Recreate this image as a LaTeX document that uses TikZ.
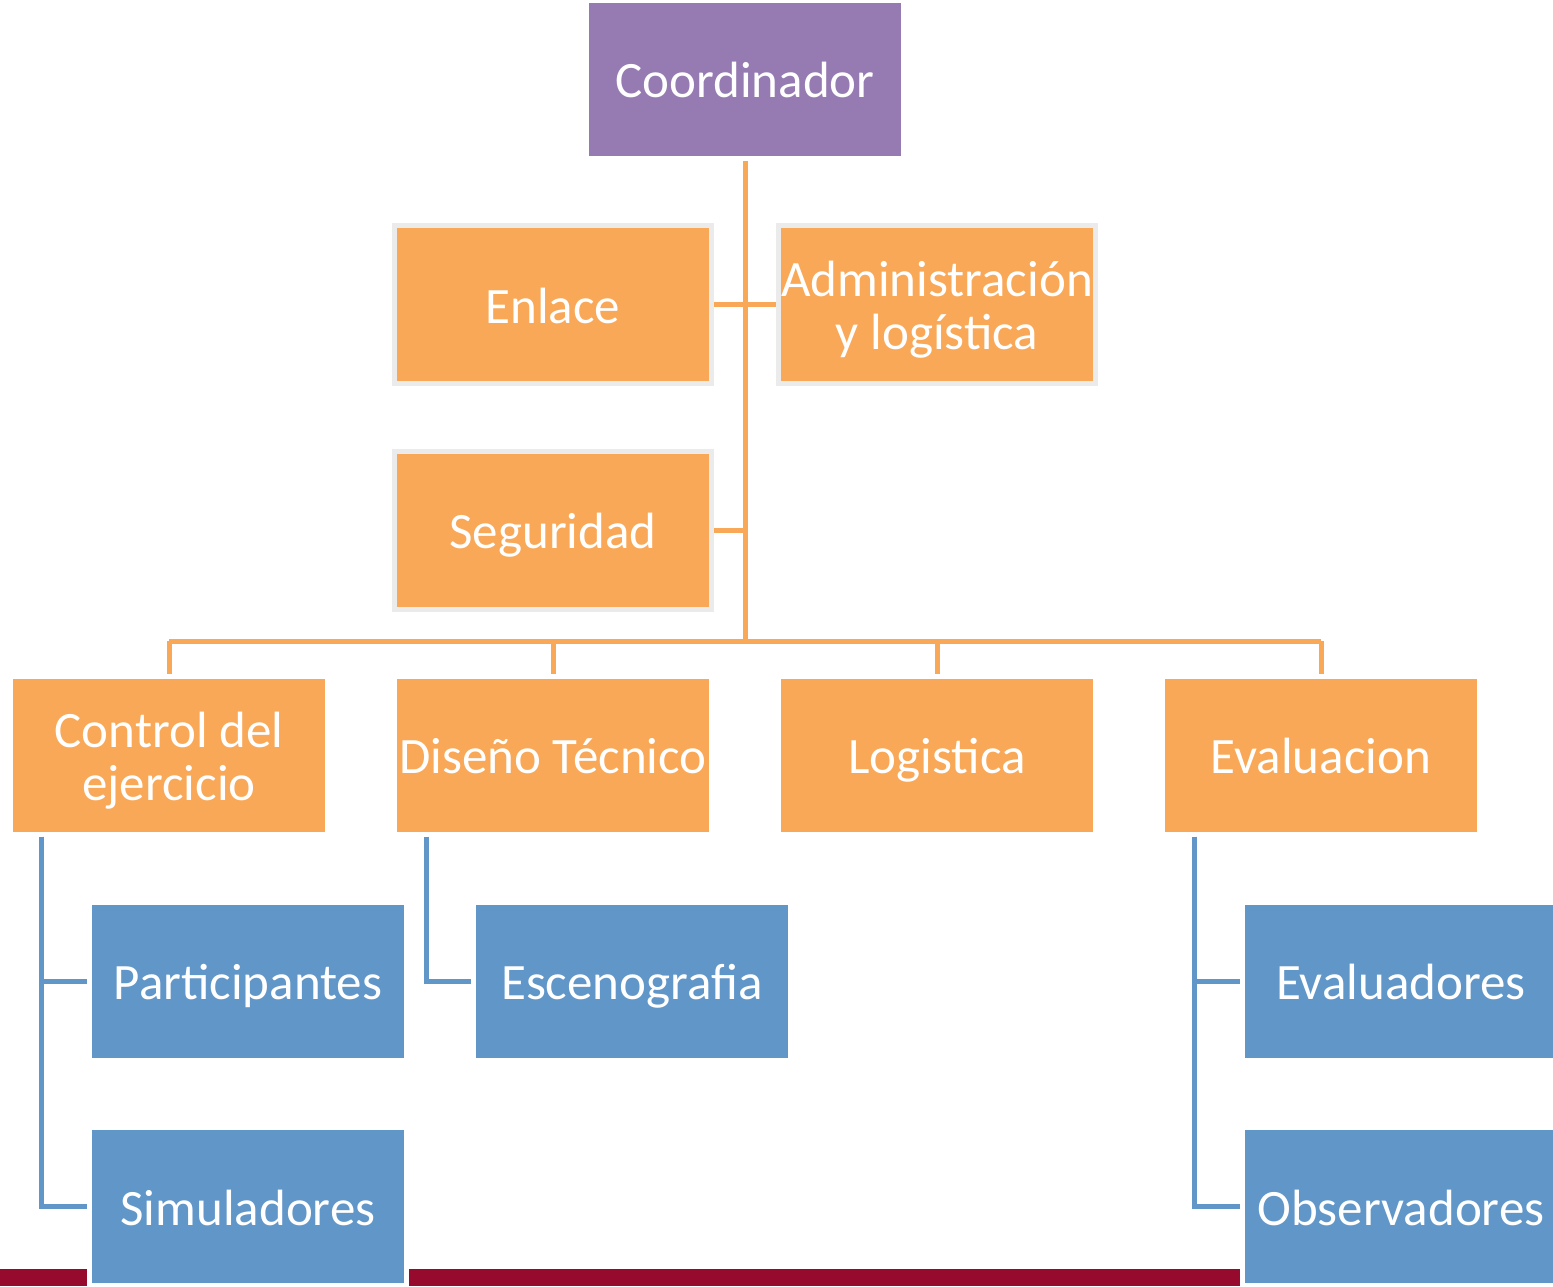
\documentclass[tikz,border=0pt]{standalone}
\usepackage{fontspec}
\setmainfont{Carlito}
\usetikzlibrary{calc}
\definecolor{naranja}{HTML}{F9A857}
\definecolor{azul}{HTML}{6196C9}
\definecolor{morado}{HTML}{957BB1}
\definecolor{rojo}{HTML}{960B2D}
\definecolor{borde}{HTML}{EBEBEB}

\begin{document}
\begin{tikzpicture}[x=1pt, y=-1pt,
  caja/.style={fill=naranja, draw=white, line width=5pt, minimum width=317pt, minimum height=158pt,
    outer sep=2.5pt, inner sep=0pt, text=white, align=center, text height=42pt, text depth=5pt,
    font=\fontsize{51}{53}\selectfont},
  doble/.style={text height=95pt},
  lateral/.style={caja, draw=borde},
  jefe/.style={caja, fill=morado},
  sub/.style={caja, fill=azul},
  linea/.style={naranja, line width=5pt},
  lineaazul/.style={azul, line width=5pt}]
\useasboundingbox (0,0) rectangle (1553,1286);
\fill[rojo] (0,1269) rectangle (1240,1286);

\node[jefe] (coord) at (745,79) {Coordinador};
\node[lateral] (enlace) at (553,304.5) {Enlace};
\node[lateral, doble] (admin) at (937,304.5) {Administración\\y logística};
\node[lateral] (seg) at (553,530) {Seguridad};

\node[caja, doble] (ctrl) at (169,755) {Control del\\ejercicio};
\node[caja] (dis) at (553,755) {Diseño Técnico};
\node[caja] (log) at (937,755) {Logistica};
\node[caja] (eval) at (1321,755) {Evaluacion};

\node[sub] (part) at (248,981) {Participantes};
\node[sub] (sim) at (248,1206.5) {Simuladores};
\node[sub] (esc) at (632,981) {Escenografia};
\node[sub] (evdr) at (1401,981) {Evaluadores};
\node[sub] (obs) at (1401,1206.5) {Observadores};

\coordinate (bus) at (745,641);
\draw[linea] (coord.south) -- (bus);
\draw[linea] (enlace.east) -- (admin.west);
\draw[linea] (seg.east) -- (seg.east -| coord.south);
\draw[linea] (ctrl.north |- bus) -- (eval.north |- bus);
\foreach \n in {ctrl,dis,log,eval}
  \draw[linea] (\n.north |- bus) -- (\n.north);

\draw[lineaazul] ([xshift=33pt]ctrl.south west) |- (part.west);
\draw[lineaazul] ([xshift=33pt]ctrl.south west) |- (sim.west);
\draw[lineaazul] ([xshift=34pt]dis.south west) |- (esc.west);
\draw[lineaazul] ([xshift=34pt]eval.south west) |- (evdr.west);
\draw[lineaazul] ([xshift=34pt]eval.south west) |- (obs.west);
\end{tikzpicture}
\end{document}
